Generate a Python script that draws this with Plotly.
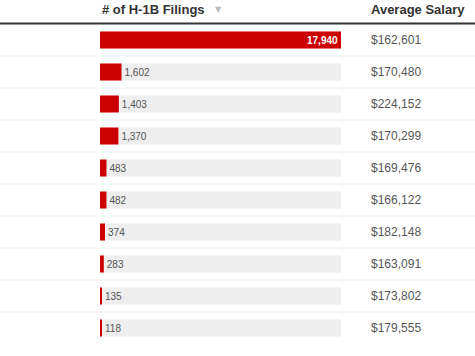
import plotly.graph_objects as go

W, H = 475, 356

filings = [17940, 1602, 1403, 1370, 483, 482, 374, 283, 135, 118]
salaries = ["$162,601", "$170,480", "$224,152", "$170,299", "$169,476",
            "$166,122", "$182,148", "$163,091", "$173,802", "$179,555"]
filing_labels = [f"{v:,}" for v in filings]
header_bar = "# of H-1B Filings"
header_salary = "Average Salary"
sort_icon = "▼"

rows = list(range(len(filings)))
max_val = max(filings)

FONT = "Liberation Sans, Arial, sans-serif"

# pixel geometry
x0_px, x1_px = 100, 341
top_px, row_h = 24, 32
bottom_px = top_px + row_h * len(rows)

fig = go.Figure()

# track
fig.add_trace(go.Bar(
    y=rows, x=[max_val] * len(rows), orientation="h",
    marker=dict(color="#eeeeee", line=dict(width=0)),
    width=17 / 32, hoverinfo="skip", showlegend=False,
))

positions = ["inside" if v == max_val else "outside" for v in filings]
fig.add_trace(go.Bar(
    y=rows, x=filings, orientation="h",
    marker=dict(color="#cc0000", line=dict(width=0)),
    width=17 / 32,
    text=filing_labels, textposition=positions,
    insidetextanchor="end",
    insidetextfont=dict(family=FONT, size=10, color="white", weight="bold"),
    outsidetextfont=dict(family=FONT, size=10, color="#555555"),
    constraintext="none", cliponaxis=False,
    showlegend=False,
))

fig.update_layout(
    width=W, height=H,
    margin=dict(l=0, r=0, t=0, b=0),
    paper_bgcolor="white", plot_bgcolor="white",
    barmode="overlay",
    xaxis=dict(domain=[x0_px / W, x1_px / W], range=[0, max_val],
               visible=False, fixedrange=True),
    yaxis=dict(domain=[1 - bottom_px / H, 1 - top_px / H],
               range=[len(rows) - 0.5, -0.5], visible=False, fixedrange=True),
)

shapes = [dict(type="line", xref="paper", yref="paper", x0=0, x1=1,
               y0=1 - (top_px - 0.5) / H, y1=1 - (top_px - 0.5) / H,
               line=dict(color="#333333", width=2))]
for i in rows[:-1]:
    shapes.append(dict(type="line", xref="paper", yref="y", x0=0, x1=1,
                       y0=i + 0.5, y1=i + 0.5,
                       line=dict(color="#eeeeee", width=1)))
fig.update_layout(shapes=shapes)

ann = [
    dict(text=f"<b>{header_bar}</b>", xref="paper", yref="paper",
         x=x0_px / W, y=1 - 10 / H, xanchor="left", yanchor="middle",
         showarrow=False, font=dict(family=FONT, size=13, color="#333333")),
    dict(text=sort_icon, xref="paper", yref="paper",
         x=218 / W, y=1 - 9 / H, xanchor="center", yanchor="middle",
         showarrow=False, font=dict(family="DejaVu Sans", size=8, color="#bbbbbb")),
    dict(text=f"<b>{header_salary}</b>", xref="paper", yref="paper",
         x=369 / W, y=1 - 10 / H, xanchor="left", yanchor="middle",
         showarrow=False, font=dict(family=FONT, size=13, color="#333333")),
]
for i, s in zip(rows, salaries):
    ann.append(dict(text=s, xref="paper", yref="y", x=369 / W, y=i,
                    xanchor="left", yanchor="middle", showarrow=False,
                    font=dict(family=FONT, size=12, color="#555555")))
fig.update_layout(annotations=ann)

fig.write_html("out.html", config={"displayModeBar": False},
               post_script="document.body.style.margin='0';document.body.style.overflow='hidden';")
